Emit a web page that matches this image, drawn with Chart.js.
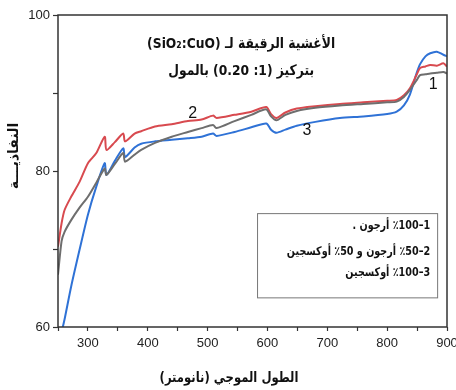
<!DOCTYPE html>
<html>
<head>
<meta charset="utf-8">
<script src="https://cdn.jsdelivr.net/npm/chart.js@4.4.1/dist/chart.umd.min.js"></script>
<style>
html,body{margin:0;padding:0;background:#fff;}
#wrap{width:456px;height:390px;}
</style>
</head>
<body>
<div id="wrap"><canvas id="c" width="456" height="390"></canvas></div>
<script>
// Wavelength (nm)
const wavelengths = [250,256,261,272,286,300,314,328,331,345,359,362,378,389,412,440,467,490,509,515,545,573,598,606,615,630,649,680,721,760,800,816,828,838,849,855,864,872,883,894,900];
// Series 1: 100% Argon (gray)
const argon100 = [66.7,71.0,72.2,73.7,75.3,76.7,78.5,80.3,79.5,80.9,82.3,81.2,82.1,82.7,83.6,84.4,85.0,85.5,85.9,85.5,86.4,87.2,87.9,87.0,86.5,87.2,87.7,88.1,88.4,88.6,88.8,88.9,89.5,90.4,91.6,92.3,92.4,92.5,92.6,92.7,92.5];
// Series 2: 50% Argon + 50% Oxygen (red)
const mix50 = [70.3,73.3,75.0,76.7,78.6,81.0,82.3,84.4,82.7,83.7,84.8,83.8,84.8,85.1,85.7,86.0,86.4,86.6,87.1,86.8,87.2,87.6,88.2,87.3,86.8,87.5,88.0,88.3,88.6,88.8,89.0,89.1,89.7,90.6,92.3,93.2,93.4,93.6,93.5,93.8,93.4];
// Series 3: 100% Oxygen (blue)
const oxygen100 = [57.0,59.3,61.0,65.2,69.9,74.4,78.0,81.0,79.5,81.3,82.9,81.8,83.0,83.5,83.8,84.0,84.2,84.4,84.8,84.5,85.0,85.6,86.1,85.3,84.9,85.3,85.8,86.3,86.8,87.0,87.3,87.6,88.4,89.8,92.5,93.7,94.7,95.1,95.3,94.9,94.7];

const xTickLabels = [300,400,500,600,700,800,900];
const yTickLabels = [60,80,100];

const titleLines = ['الأغشية الرقيقة لـ (SiO\u2082:CuO)', 'بتركيز (1: 0.20) بالمول'];
const legendLines = ['1\u2013100\u200F٪ أرجون .', '2\u201350\u200F٪ أرجون و 50\u200F٪ أوكسجين', '3\u2013100\u200F٪ أوكسجين'];
const curveLabels = ['1','2','3'];
const xTitle = 'الطول الموجي (نانومتر)';
const yTitle = 'النفاذيـــة';

function pts(arr){ return wavelengths.map((w,i)=>({x:w,y:arr[i]})); }

function textScaled(ctx, txt, x, y, sx){
  ctx.save();
  ctx.translate(x, y);
  ctx.scale(sx, 1);
  ctx.fillText(txt, 0, 0);
  ctx.restore();
}

const annot = {
  id:'annot',
  afterDatasetsDraw(chart){
    const {ctx, chartArea:a, scales:{x,y}} = chart;
    ctx.save();
    // frame
    ctx.strokeStyle = '#333';
    ctx.lineWidth = 1.5;
    ctx.strokeRect(a.left, a.top, a.right-a.left, a.bottom-a.top);

    ctx.fillStyle = '#111';
    ctx.direction = 'rtl';
    ctx.textBaseline = 'middle';
    ctx.textAlign = 'center';
    // title
    ctx.font = 'bold 14.5px "DejaVu Sans"';
    textScaled(ctx, titleLines[0], x.getPixelForValue(556), y.getPixelForValue(96.2), 0.85);
    textScaled(ctx, titleLines[1], x.getPixelForValue(556), y.getPixelForValue(92.8), 0.85);

    // curve labels
    ctx.direction = 'ltr';
    ctx.font = '16px "Liberation Sans"';
    ctx.fillText(curveLabels[0], x.getPixelForValue(877), y.getPixelForValue(91.1));
    ctx.fillText(curveLabels[1], x.getPixelForValue(475), y.getPixelForValue(87.4));
    ctx.fillText(curveLabels[2], x.getPixelForValue(666), y.getPixelForValue(85.2));

    // legend box
    const bx0 = x.getPixelForValue(582.6), bx1 = x.getPixelForValue(883.5);
    const by0 = y.getPixelForValue(74.6), by1 = y.getPixelForValue(63.8);
    ctx.fillStyle = '#fff';
    ctx.fillRect(bx0, by0, bx1-bx0, by1-by0);
    ctx.strokeStyle = '#777';
    ctx.lineWidth = 1;
    ctx.strokeRect(bx0+0.5, by0+0.5, bx1-bx0, by1-by0);
    ctx.fillStyle = '#111';
    ctx.direction = 'rtl';
    ctx.textAlign = 'right';
    ctx.font = 'bold 12px "DejaVu Sans"';
    const lx = bx1 - 7;
    textScaled(ctx, legendLines[0], lx, by0 + 12.5, 0.8);
    textScaled(ctx, legendLines[1], lx, by0 + 38.5, 0.8);
    textScaled(ctx, legendLines[2], lx, by0 + 59.5, 0.8);

    // axis titles
    ctx.textAlign = 'center';
    ctx.font = 'bold 14px "DejaVu Sans"';
    textScaled(ctx, xTitle, a.left + 171, a.bottom + 51, 0.83);
    ctx.translate(a.left - 44, a.top + 141);
    ctx.rotate(-Math.PI/2);
    ctx.fillText(yTitle, 0, 0);
    ctx.restore();
  }
};

new Chart(document.getElementById('c'), {
  type:'line',
  data:{
    datasets:[
      {label:'1', data:pts(argon100), borderColor:'#6e6e6e', borderWidth:2, pointRadius:0, tension:0.25},
      {label:'2', data:pts(mix50), borderColor:'#d84a4f', borderWidth:2, pointRadius:0, tension:0.25},
      {label:'3', data:pts(oxygen100), borderColor:'#2f72d6', borderWidth:2, pointRadius:0, tension:0.25}
    ]
  },
  options:{
    responsive:false,
    animation:false,
    layout:{padding:{top:15,right:9,left:0,bottom:0}},
    plugins:{legend:{display:false}, tooltip:{enabled:false}, title:{display:false}},
    scales:{
      x:{
        type:'linear', min:250, max:900,
        border:{display:false},
        grid:{drawOnChartArea:false, drawTicks:true, tickLength:4, tickColor:'#333', tickWidth:1.2},
        ticks:{stepSize:50, autoSkip:false, maxRotation:0, padding:5, color:'#222',
          font:{family:'"Liberation Sans"', size:13},
          callback:(v)=> xTickLabels.includes(v) ? String(v) : ''},
        afterFit(s){ s.height = 63; s.paddingLeft = 0; s.paddingRight = 0; }
      },
      y:{
        min:60, max:100,
        border:{display:false},
        grid:{drawOnChartArea:false, drawTicks:true, tickLength:5, tickColor:'#333', tickWidth:1.2},
        ticks:{stepSize:10, autoSkip:false, padding:3, color:'#222',
          font:{family:'"Liberation Sans"', size:13},
          callback:(v)=> yTickLabels.includes(v) ? String(v) : ''},
        afterFit(s){ s.width = 58; s.paddingTop = 0; s.paddingBottom = 0; }
      }
    }
  },
  plugins:[annot]
});
</script>
</body>
</html>
